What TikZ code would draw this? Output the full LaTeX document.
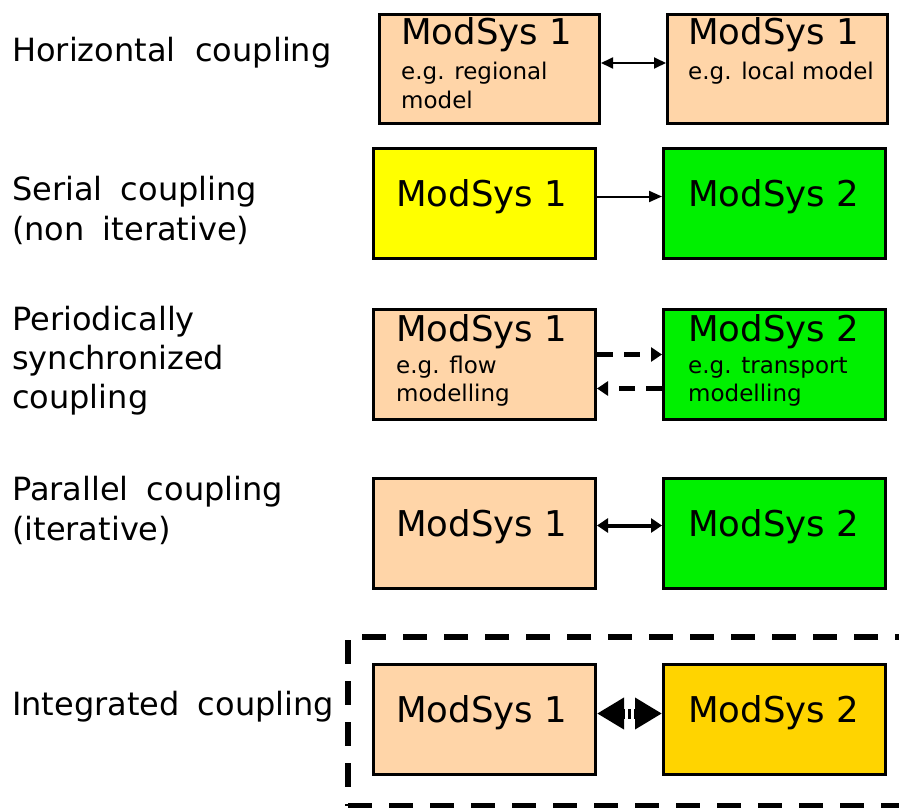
\documentclass[tikz,border=0pt]{standalone}
\usepackage{fontspec}
\setmainfont{DejaVu Sans}
\usetikzlibrary{arrows.meta}
\definecolor{peach}{HTML}{FFD5A8}
\definecolor{brightyellow}{HTML}{FFFF00}
\definecolor{brightgreen}{HTML}{00F000}
\definecolor{gold}{HTML}{FFD400}
\tikzset{
  box/.style={draw=black, line width=3pt, minimum width=222pt, minimum height=110pt, inner sep=0pt, anchor=north west},
  lab/.style={anchor=base west, inner sep=0pt, font=\fontsize{32}{39}\selectfont},
  big/.style={anchor=base west, inner sep=0pt, font=\fontsize{35.5}{40}\selectfont},
  small/.style={anchor=base west, inner sep=0pt, font=\fontsize{23}{29}\selectfont},
}
\begin{document}
\begin{tikzpicture}[x=1pt,y=-1pt]
\useasboundingbox (0,0) rectangle (899,808);
\clip (0,0) rectangle (899,808);
\fill[white] (0,0) rectangle (899,808);

% left labels
\node[lab] (l1) at (12,62) {Horizontal\hspace{0.3em} coupling};
\node[lab] (l2a) at (12,200) {Serial\hspace{0.25em} coupling};
\node[lab] (l2b) at (12,240) {(non\hspace{0.25em} iterative)};
\node[lab] (l3a) at (12,330) {Periodically};
\node[lab] (l3b) at (12,369) {synchronized};
\node[lab] (l3c) at (12,408) {coupling};
\node[lab] (l4a) at (12,500) {Parallel\hspace{0.25em} coupling};
\node[lab] (l4b) at (12,540) {(iterative)};
\node[lab] (l5) at (12,715) {Integrated\hspace{0.25em} coupling};

% row 1
\node[box, fill=peach, minimum width=220pt, minimum height=109pt] (a1) at (378,13) {};
\node[box, fill=peach, minimum width=220pt, minimum height=109pt] (b1) at (666,13) {};
\node[big] (ta1) at (401,45) {ModSys 1};
\node[small] (sa1) at (401,79) {e.g. regional};
\node[small] (sa1b) at (401,108) {model};
\node[big] (tb1) at (688,45) {ModSys 1};
\node[small] (sb1) at (688,79) {e.g. local model};
\draw[line width=1.8pt, {Triangle[length=12pt,width=11pt]}-{Triangle[length=12pt,width=11pt]}]
  ([yshift=6pt]a1.east) -- ([yshift=6pt]b1.west);

% row 2
\node[box, fill=brightyellow] (a2) at (372,147) {};
\node[box, fill=brightgreen] (b2) at (662,147) {};
\node[big] (ta2) at (396,206) {ModSys 1};
\node[big] (tb2) at (688,206) {ModSys 2};
\draw[line width=2pt, -{Triangle[length=13pt,width=11pt]}]
  ([yshift=7pt]a2.east) -- ([yshift=7pt]b2.west);

% row 3
\node[box, fill=peach] (a3) at (372,308) {};
\node[box, fill=brightgreen] (b3) at (662,308) {};
\node[big] (ta3) at (396,341) {ModSys 1};
\node[small] (sa3) at (396,373) {e.g. flow};
\node[small] (sa3b) at (396,401) {modelling};
\node[big] (tb3) at (688,341) {ModSys 2};
\node[small] (sb3) at (688,373) {e.g. transport};
\node[small] (sb3b) at (688,401) {modelling};
\draw[line width=5pt, dash pattern=on 16pt off 11pt, -{Triangle[length=11pt,width=14pt]}]
  ([yshift=10pt]a3.east) -- ([yshift=10pt]b3.west);
\draw[line width=5pt, dash pattern=on 16pt off 11pt, -{Triangle[length=11pt,width=14pt]}]
  ([yshift=-24pt]b3.west) -- ([yshift=-24pt]a3.east);

% row 4
\node[box, fill=peach] (a4) at (372,477) {};
\node[box, fill=brightgreen] (b4) at (662,477) {};
\node[big] (ta4) at (396,536) {ModSys 1};
\node[big] (tb4) at (688,536) {ModSys 2};
\draw[line width=4pt, {Triangle[length=11pt,width=14pt]}-{Triangle[length=11pt,width=14pt]}]
  ([yshift=8pt]a4.east) -- ([yshift=8pt]b4.west);

% row 5
\node[draw=black, line width=6pt, dash pattern=on 24pt off 17pt, minimum width=570pt, minimum height=169pt, inner sep=0pt, anchor=north west] (frame) at (345,634) {};
\node[box, fill=peach] (a5) at (372,663) {};
\node[box, fill=gold] (b5) at (662,663) {};
\node[big] (ta5) at (396,722) {ModSys 1};
\node[big] (tb5) at (688,722) {ModSys 2};
\draw[line width=10pt, dash pattern=on 3pt off 3pt, {Triangle[length=27pt,width=30pt]}-{Triangle[length=27pt,width=30pt]}]
  ([yshift=6pt]a5.east) -- ([yshift=6pt]b5.west);
\end{tikzpicture}
\end{document}
